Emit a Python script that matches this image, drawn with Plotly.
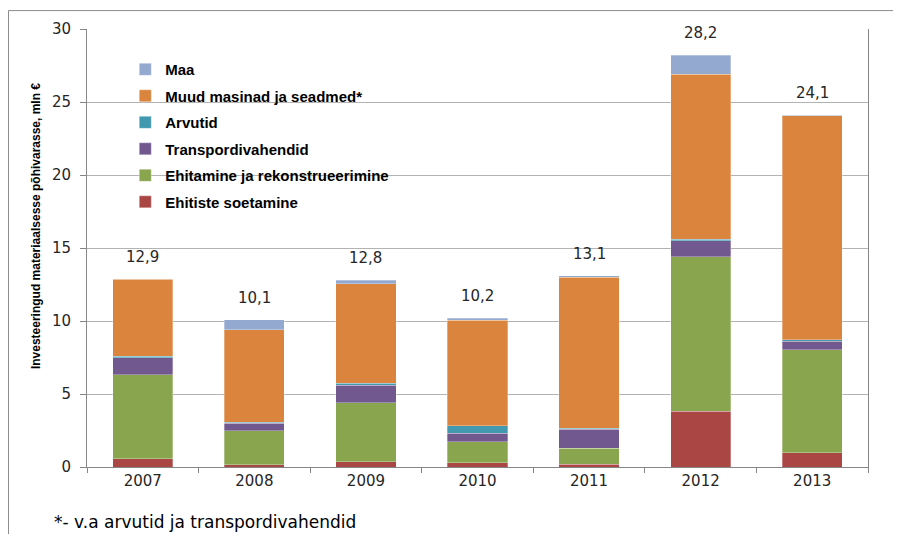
import plotly.graph_objects as go

years = ["2007", "2008", "2009", "2010", "2011", "2012", "2013"]
ehitiste_soetamine = [0.55, 0.14, 0.36, 0.30, 0.20, 3.82, 0.98]
ehitamine = [5.77, 2.36, 4.03, 1.43, 1.10, 10.59, 7.06]
transpordivahendid = [1.15, 0.50, 1.22, 0.57, 1.29, 1.09, 0.59]
arvutid = [0.12, 0.05, 0.12, 0.52, 0.05, 0.09, 0.10]
muud_masinad = [5.27, 6.36, 6.81, 7.22, 10.34, 11.31, 15.34]
maa = [0.04, 0.69, 0.26, 0.16, 0.11, 1.30, 0.03]
totals = [12.9, 10.1, 12.8, 10.2, 13.1, 28.2, 24.1]
y_ticks = [0, 5, 10, 15, 20, 25, 30]

series = [
    ("Ehitiste soetamine", ehitiste_soetamine, "#AA4643"),
    ("Ehitamine ja rekonstrueerimine", ehitamine, "#89A54E"),
    ("Transpordivahendid", transpordivahendid, "#71588F"),
    ("Arvutid", arvutid, "#4198AF"),
    ("Muud masinad ja seadmed*", muud_masinad, "#DB843D"),
    ("Maa", maa, "#93A9CF"),
]

fig = go.Figure()
n = len(series)
for i, (name, vals, col) in enumerate(series):
    fig.add_trace(go.Bar(
        x=years, y=vals, name=f"<b>{name}</b>", legendgroup=f"g{i}", legendrank=n - i,
        marker=dict(color=col, line=dict(width=0.5, color="rgba(255,255,255,0.6)")),
    ))

tick_font = dict(family="DejaVu Sans", size=15, color="#262626")

for i, t in enumerate(totals):
    fig.add_annotation(x=i, y=t, text=f"{t:.1f}".replace(".", ","), showarrow=False,
                       yanchor="bottom", yshift=11, font=tick_font)

# y-axis title
fig.add_annotation(xref="paper", yref="paper", x=(27 - 87) / 781, y=(467 - 225) / 440,
                   text="<b>Investeeringud materiaalsesse põhivarasse, mln €</b>",
                   textangle=-90, showarrow=False,
                   font=dict(family="Liberation Sans", size=12, color="#000000"))

# footnote
fig.add_annotation(xref="paper", yref="paper", x=(52 - 87) / 781, y=(467 - 522) / 440,
                   xanchor="left", yanchor="middle", text="*- v.a arvutid ja transpordivahendid",
                   showarrow=False, font=dict(family="DejaVu Sans", size=17, color="#000000"))

# outer chart border
fig.add_shape(type="rect", xref="paper", yref="paper",
              x0=(8.5 - 87) / 781, x1=(898.5 - 87) / 781,
              y0=(467 - 560) / 440, y1=1 + (27 - 8.5) / 440,
              line=dict(color="#8C8C8C", width=1), layer="below")

fig.update_layout(
    width=893, height=526,
    margin=dict(l=79, r=33, t=19, b=67),
    paper_bgcolor="white", plot_bgcolor="white",
    barmode="stack", bargap=0.46,
    showlegend=True,
    legend=dict(x=0.049, y=0.945, xanchor="left", yanchor="top",
                traceorder="grouped", tracegroupgap=4,
                bgcolor="rgba(0,0,0,0)",
                font=dict(family="Liberation Sans", size=15, color="#000000"),
                itemwidth=30),
    xaxis=dict(type="category", range=[-0.5, 6.5], showline=True, linecolor="#868686", linewidth=1,
               ticks="outside", tickson="boundaries", ticklen=5, tickcolor="#868686",
               tickfont=tick_font, showgrid=False),
    yaxis=dict(range=[0, 30], tickvals=y_ticks, showline=True, mirror=True,
               linecolor="#868686", linewidth=1, showgrid=True, gridcolor="#B3B3B3",
               gridwidth=1, ticks="outside", ticklen=6, tickcolor="#868686",
               tickfont=tick_font, ticklabelstandoff=6, zeroline=False),
)

fig.write_html("out.html")
